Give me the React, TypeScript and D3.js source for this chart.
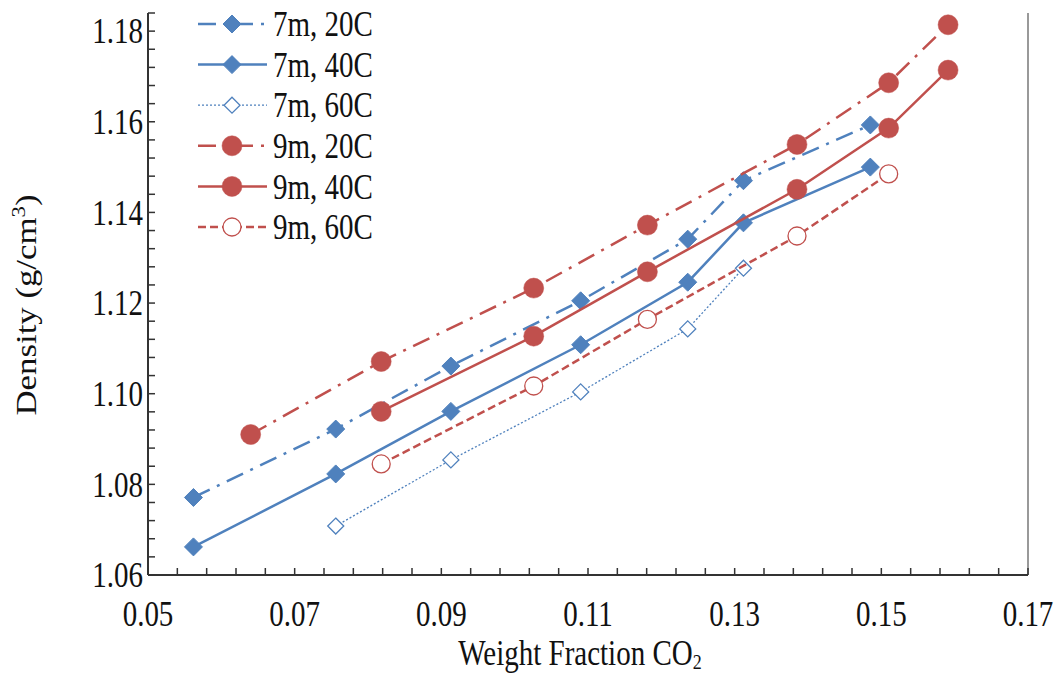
import React from "react";
import * as d3 from "d3";

const x7 = [0.0562, 0.0756, 0.0913, 0.109, 0.1236, 0.1312, 0.1485];
const x7hot = [0.0756, 0.0913, 0.109, 0.1236, 0.1312];
const x9 = [0.064, 0.0818, 0.1026, 0.1181, 0.1385, 0.151, 0.1591];
const x9mid = [0.0818, 0.1026, 0.1181, 0.1385, 0.151, 0.1591];
const x9hot = [0.0818, 0.1026, 0.1181, 0.1385, 0.151];

const d7m20 = [1.0771, 1.0922, 1.1061, 1.1205, 1.1341, 1.147, 1.1593];
const d7m40 = [1.0662, 1.0823, 1.0961, 1.1108, 1.1246, 1.1377, 1.15];
const d7m60 = [1.0708, 1.0854, 1.1004, 1.1143, 1.1277];
const d9m20 = [1.091, 1.1071, 1.1233, 1.1372, 1.155, 1.1686, 1.1814];
const d9m40 = [1.0961, 1.1127, 1.1269, 1.1451, 1.1586, 1.1714];
const d9m60 = [1.0845, 1.1017, 1.1164, 1.1348, 1.1485];

const xTicks = [0.05, 0.07, 0.09, 0.11, 0.13, 0.15, 0.17];
const yTicks = [1.06, 1.08, 1.1, 1.12, 1.14, 1.16, 1.18];

const BLUE = "#4F81BD";
const RED = "#C0504D";

type Series = {
  name: string;
  xs: number[];
  ys: number[];
  color: string;
  dash: string;
  width: number;
  marker: "diamond" | "circle";
  hollow: boolean;
};

const series: Series[] = [
  { name: "7m, 20C", xs: x7, ys: d7m20, color: BLUE, dash: "18,8,3,8", width: 2.5, marker: "diamond", hollow: false },
  { name: "7m, 40C", xs: x7, ys: d7m40, color: BLUE, dash: "", width: 2.5, marker: "diamond", hollow: false },
  { name: "7m, 60C", xs: x7hot, ys: d7m60, color: BLUE, dash: "2,2", width: 1.3, marker: "diamond", hollow: true },
  { name: "9m, 20C", xs: x9, ys: d9m20, color: RED, dash: "18,8,3,8", width: 2.5, marker: "circle", hollow: false },
  { name: "9m, 40C", xs: x9mid, ys: d9m40, color: RED, dash: "", width: 2.5, marker: "circle", hollow: false },
  { name: "9m, 60C", xs: x9hot, ys: d9m60, color: RED, dash: "8,4", width: 2.5, marker: "circle", hollow: true },
];

const W = 1059;
const H = 673;
const L = 148, R = 1028, T = 13, B = 575;
const FONT = "'Liberation Serif', 'Times New Roman', serif";
const SY = 1.2;

function Marker({ s, cx, cy }: { s: Series; cx: number; cy: number }) {
  if (s.marker === "diamond") {
    const r = s.hollow ? 8 : 9;
    const d = `M${cx},${cy - r}L${cx + r},${cy}L${cx},${cy + r}L${cx - r},${cy}Z`;
    return s.hollow ? (
      <path d={d} fill="white" stroke={s.color} strokeWidth={1.3} />
    ) : (
      <path d={d} fill={s.color} stroke={s.color} strokeWidth={1} />
    );
  }
  return s.hollow ? (
    <circle cx={cx} cy={cy} r={9} fill="white" stroke={s.color} strokeWidth={1.3} />
  ) : (
    <circle cx={cx} cy={cy} r={10} fill={s.color} stroke={s.color} strokeWidth={0.5} />
  );
}

export default function App() {
  const x = d3.scaleLinear().domain([0.05, 0.17]).range([L, R]);
  const y = d3.scaleLinear().domain([1.06, 1.184]).range([B, T]);
  const line = d3.line<[number, number]>().x((d) => x(d[0])).y((d) => y(d[1]));

  const xMinor = d3.range(0, 31).map((i) => 0.05 + i * 0.004);
  const yMinor = d3.range(0, 32).map((i) => 1.06 + i * 0.004);

  return (
    <svg width={W} height={H} style={{ position: "absolute", left: 0, top: 0, background: "white" }} fontFamily={FONT}>
      <rect x={0} y={0} width={W} height={H} fill="white" />
      <line x1={R} x2={R} y1={T} y2={B} stroke="#999" strokeWidth={2} />
      <line x1={L} x2={R} y1={B} y2={B} stroke="#333" strokeWidth={2} />
      <line x1={L} x2={L} y1={T} y2={B} stroke="#333" strokeWidth={2} />
      {xMinor.map((v, i) => (
        <line key={"xm" + i} x1={x(v)} x2={x(v)} y1={B} y2={B - 7} stroke="#333" strokeWidth={1.5} />
      ))}
      {yMinor.map((v, i) => (
        <line key={"ym" + i} x1={L} x2={L + 7} y1={y(v)} y2={y(v)} stroke="#333" strokeWidth={1.5} />
      ))}
      {xTicks.map((v) => (
        <text key={"xt" + v} transform={`translate(${x(v)},626) scale(1,${SY})`} textAnchor="middle" fontSize={29} fill="#111">
          {v.toFixed(2)}
        </text>
      ))}
      {yTicks.map((v) => (
        <text key={"yt" + v} transform={`translate(143,${y(v)}) scale(1,${SY})`} dy="0.35em" textAnchor="end" fontSize={29} fill="#111">
          {v.toFixed(2)}
        </text>
      ))}
      <text transform={`translate(580,665) scale(1,${SY})`} textAnchor="middle" fontSize={29} fill="#111">
        Weight Fraction CO<tspan fontSize={18} dy={3}>2</tspan>
      </text>
      <text transform={`translate(36,305) scale(1,${SY}) rotate(-90)`} textAnchor="middle" fontSize={29} fill="#111">
        Density (g/cm<tspan fontSize={19} dy={-11}>3</tspan><tspan dy={11}>)</tspan>
      </text>
      {series.map((s) => {
        const pts: [number, number][] = s.xs.map((v, i) => [v, s.ys[i]]);
        return (
          <g key={s.name}>
            <path d={line(pts) || ""} fill="none" stroke={s.color} strokeWidth={s.width} strokeDasharray={s.dash || undefined} />
            {pts.map((p, i) => (
              <Marker key={i} s={s} cx={x(p[0])} cy={y(p[1])} />
            ))}
          </g>
        );
      })}
      {series.map((s, i) => {
        const ly = 24 + i * 40.6;
        return (
          <g key={"lg" + s.name}>
            <line x1={198} x2={267} y1={ly} y2={ly} stroke={s.color} strokeWidth={s.width} strokeDasharray={s.dash || undefined} />
            <Marker s={s} cx={232} cy={ly} />
            <text transform={`translate(273,${ly}) scale(1,${SY})`} dy="0.35em" fontSize={29} fill="#111">
              {s.name}
            </text>
          </g>
        );
      })}
    </svg>
  );
}
